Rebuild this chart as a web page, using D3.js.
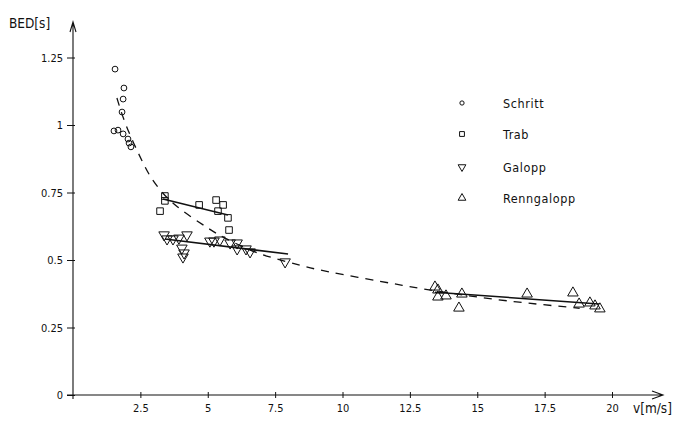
<!DOCTYPE html>
<html lang="de">
<head>
    <meta charset="UTF-8">
    <title>BED gegen v</title>
    <script src="https://d3js.org/d3.v7.min.js"></script>
    <style>
        body { margin: 0; background: #fff; }
        text { font-family: "DejaVu Sans Condensed", "DejaVu Sans", sans-serif; fill: #111; }
    </style>
</head>
<body>
    <svg></svg>
    <script>
        // values: [v (m/s), BED (s)]
        const schritt = [[1.56, 1.207], [1.89, 1.137], [1.86, 1.096], [1.82, 1.048], [1.52, 0.978],
            [1.67, 0.981], [1.86, 0.967], [2.04, 0.948], [2.08, 0.933], [2.15, 0.919]];
        const trab = [[3.23, 0.681], [3.41, 0.737], [3.41, 0.719], [4.68, 0.704], [5.31, 0.722],
            [5.57, 0.704], [5.38, 0.681], [5.75, 0.656], [5.79, 0.611]];
        const galopp = [[3.38, 0.593], [3.49, 0.578], [3.71, 0.578], [3.93, 0.581], [4.23, 0.593],
            [4.04, 0.544], [4.12, 0.526], [4.08, 0.511], [5.08, 0.570], [5.23, 0.570], [5.45, 0.574],
            [5.83, 0.563], [6.09, 0.563], [6.09, 0.541], [6.42, 0.541], [6.57, 0.530], [7.87, 0.493]];
        const renngalopp = [[13.43, 0.400], [13.54, 0.389], [13.54, 0.363], [13.84, 0.367], [14.43, 0.374],
            [14.32, 0.322], [16.85, 0.374], [18.55, 0.378], [18.78, 0.337], [19.18, 0.341],
            [19.37, 0.330], [19.55, 0.319]];

        // solid regression lines (end points)
        const trabLine = [[3.34, 0.726], [5.75, 0.667]];
        const galoppLine = [[3.41, 0.578], [7.98, 0.522]];
        const renngaloppLine = [[13.43, 0.381], [19.52, 0.337]];

        // dashed overall curve
        const fitCurve = [[1.63, 1.10], [1.89, 1.015], [2.26, 0.93], [2.56, 0.867], [2.86, 0.807],
            [3.34, 0.744], [3.86, 0.696], [4.45, 0.655], [5.05, 0.615], [5.57, 0.583], [6.64, 0.533],
            [7.24, 0.512], [8.5, 0.478], [9.24, 0.46], [11.58, 0.418], [12.76, 0.396], [14.95, 0.363],
            [16.47, 0.344], [17.92, 0.33], [18.8, 0.321]];

        const xTicks = [2.5, 5, 7.5, 10, 12.5, 15, 17.5, 20];
        const yTicks = [0, 0.25, 0.5, 0.75, 1, 1.25];
        const legendNames = ["Schritt", "Trab", "Galopp", "Renngalopp"];

        const width = 690, height = 421;
        const svg = d3.select("svg").attr("width", width).attr("height", height);

        const x = d3.scaleLinear().domain([0, 20]).range([73, 612]);
        const y = d3.scaleLinear().domain([0, 1.25]).range([395, 57.5]);

        const ink = "#111";

        // axes
        const xAxis = svg.append("g")
            .attr("transform", `translate(0,${y(0)})`)
            .call(d3.axisBottom(x).tickValues(xTicks).tickFormat(d => String(d)).tickSizeOuter(0));
        xAxis.select(".domain").remove();
        xAxis.selectAll(".tick line").attr("y1", -3).attr("y2", 3).attr("stroke", ink);
        xAxis.selectAll(".tick text").attr("y", 9).attr("font-size", 11);

        const yAxis = svg.append("g")
            .attr("transform", `translate(${x(0)},0)`)
            .call(d3.axisLeft(y).tickValues(yTicks).tickFormat(d => String(d)).tickSizeOuter(0));
        yAxis.select(".domain").remove();
        yAxis.selectAll(".tick line").attr("x1", 2).attr("x2", -6).attr("stroke", ink);
        yAxis.selectAll(".tick text").attr("x", -10).attr("font-size", 11);

        // axis lines with open arrow heads
        svg.append("path")
            .attr("d", `M${x(0)},${y(0) + 4}V22M${x(0) - 3},32L${x(0)},22L${x(0) + 3},32`)
            .attr("fill", "none").attr("stroke", ink).attr("stroke-width", 1.1);
        svg.append("path")
            .attr("d", `M${x(0) - 6},${y(0)}H663M652,${y(0) - 4}L663,${y(0)}L652,${y(0) + 4}`)
            .attr("fill", "none").attr("stroke", ink).attr("stroke-width", 1.1);

        svg.append("text").attr("x", 9).attr("y", 28).attr("font-size", 13.5).text("BED[s]");
        svg.append("text").attr("x", 633).attr("y", 413).attr("font-size", 13.5).text("v[m/s]");

        // dashed curve and regression lines
        const line = d3.line().x(d => x(d[0])).y(d => y(d[1]));
        svg.append("path")
            .attr("d", line.curve(d3.curveBasis)(fitCurve))
            .attr("fill", "none").attr("stroke", ink).attr("stroke-width", 1.3)
            .attr("stroke-dasharray", "8,7");
        line.curve(d3.curveLinear);
        [trabLine, galoppLine, renngaloppLine].forEach(l => {
            svg.append("path").attr("d", line(l))
                .attr("fill", "none").attr("stroke", ink).attr("stroke-width", 1.5);
        });

        // markers
        const symbols = [
            { data: schritt, draw: s => d3.symbol(d3.symbolCircle, s * 0.55)() },
            { data: trab, draw: s => d3.symbol(d3.symbolSquare, s * 0.9)() },
            { data: galopp, draw: s => d3.symbol(d3.symbolTriangle, s)(), flip: true },
            { data: renngalopp, draw: s => d3.symbol(d3.symbolTriangle, s)() }
        ];

        symbols.forEach(sym => {
            svg.append("g").selectAll("path")
                .data(sym.data)
                .join("path")
                .attr("d", sym.draw(48))
                .attr("transform", d => `translate(${x(d[0])},${y(d[1])})${sym.flip ? " rotate(180)" : ""}`)
                .attr("fill", "none").attr("stroke", ink).attr("stroke-width", 1);
        });

        // legend
        const legend = svg.append("g").attr("transform", "translate(462,103)");
        const rows = legend.selectAll("g")
            .data(legendNames)
            .join("g")
            .attr("transform", (d, i) => `translate(0,${[0, 31, 64, 95][i]})`);
        rows.append("path")
            .attr("d", (d, i) => symbols[i].draw(26))
            .attr("transform", (d, i) => symbols[i].flip ? "rotate(180)" : null)
            .attr("fill", "none").attr("stroke", ink).attr("stroke-width", 1);
        rows.append("text")
            .attr("x", 41).attr("y", 5)
            .attr("font-size", 12.5)
            .attr("letter-spacing", 0.6)
            .text(d => d);
    </script>
</body>
</html>
